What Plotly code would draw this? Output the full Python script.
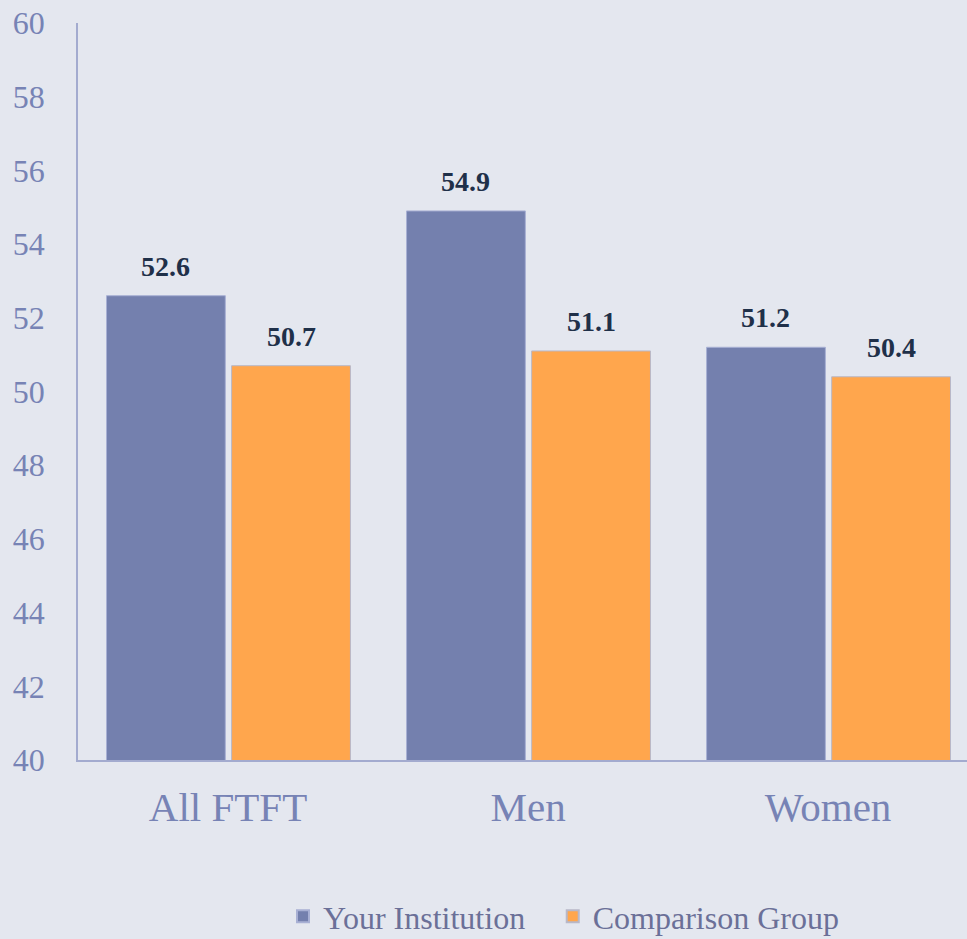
import plotly.graph_objects as go

categories = ["All FTFT", "Men", "Women"]
your_institution = [52.6, 54.9, 51.2]
comparison_group = [50.7, 51.1, 50.4]
series_names = ["Your Institution", "Comparison Group"]
tick_vals = [40, 42, 44, 46, 48, 50, 52, 54, 56, 58, 60]

bg = "#E4E7EF"
tick_color = "#7783B5"
label_color = "#1F3049"
font_family = "Liberation Serif, Times New Roman, serif"

bar_w = 0.396
offsets = [-0.405, 0.012]
series = [your_institution, comparison_group]
colors = ["#7480AE", "#FFA64D"]
edges = ["#A8B0D4", "#B8B8C8"]
legend_ids = ["legend", "legend2"]

fig = go.Figure()
for name, vals, off, col, ed, lg in zip(series_names, series, offsets, colors, edges, legend_ids):
    fig.add_trace(go.Bar(
        x=categories, y=vals, name=name, width=bar_w, offset=off, legend=lg,
        marker=dict(color=col, line=dict(color=ed, width=1)),
    ))
    for i, v in enumerate(vals):
        fig.add_annotation(
            x=i + off + bar_w / 2, y=v, xref="x", yref="y",
            text=f"<b>{v:.1f}</b>", showarrow=False, yanchor="bottom", yshift=12,
            font=dict(family=font_family, size=28, color=label_color),
        )

legend_common = dict(orientation="h", y=-0.175, yanchor="top", xanchor="left",
                     font=dict(size=32, color="#6B7098", family=font_family),
                     itemsizing="constant", bgcolor="rgba(0,0,0,0)")

fig.update_layout(
    width=967, height=939,
    paper_bgcolor=bg, plot_bgcolor=bg,
    margin=dict(l=78, r=0, t=23, b=179, autoexpand=False),
    barmode="overlay",
    font=dict(family=font_family, color=tick_color),
    showlegend=True,
    legend=dict(x=0.2306, **legend_common),
    legend2=dict(x=0.534, **legend_common),
    xaxis=dict(range=[-0.5, 2.463], showgrid=False, showline=True, linecolor="#A3ABCF",
               linewidth=1.5, ticks="", tickfont=dict(size=41, color=tick_color),
               ticklabelstandoff=10),
    yaxis=dict(range=[40, 60], tickvals=tick_vals, showgrid=False, zeroline=False,
               showline=True, linecolor="#A3ABCF", linewidth=1.5, ticks="",
               tickfont=dict(size=32, color=tick_color), ticklabelstandoff=25),
)

fig.write_html(
    "out.html",
    config={"displayModeBar": False},
    post_script="document.body.style.margin='0';document.body.style.overflow='hidden';",
)
